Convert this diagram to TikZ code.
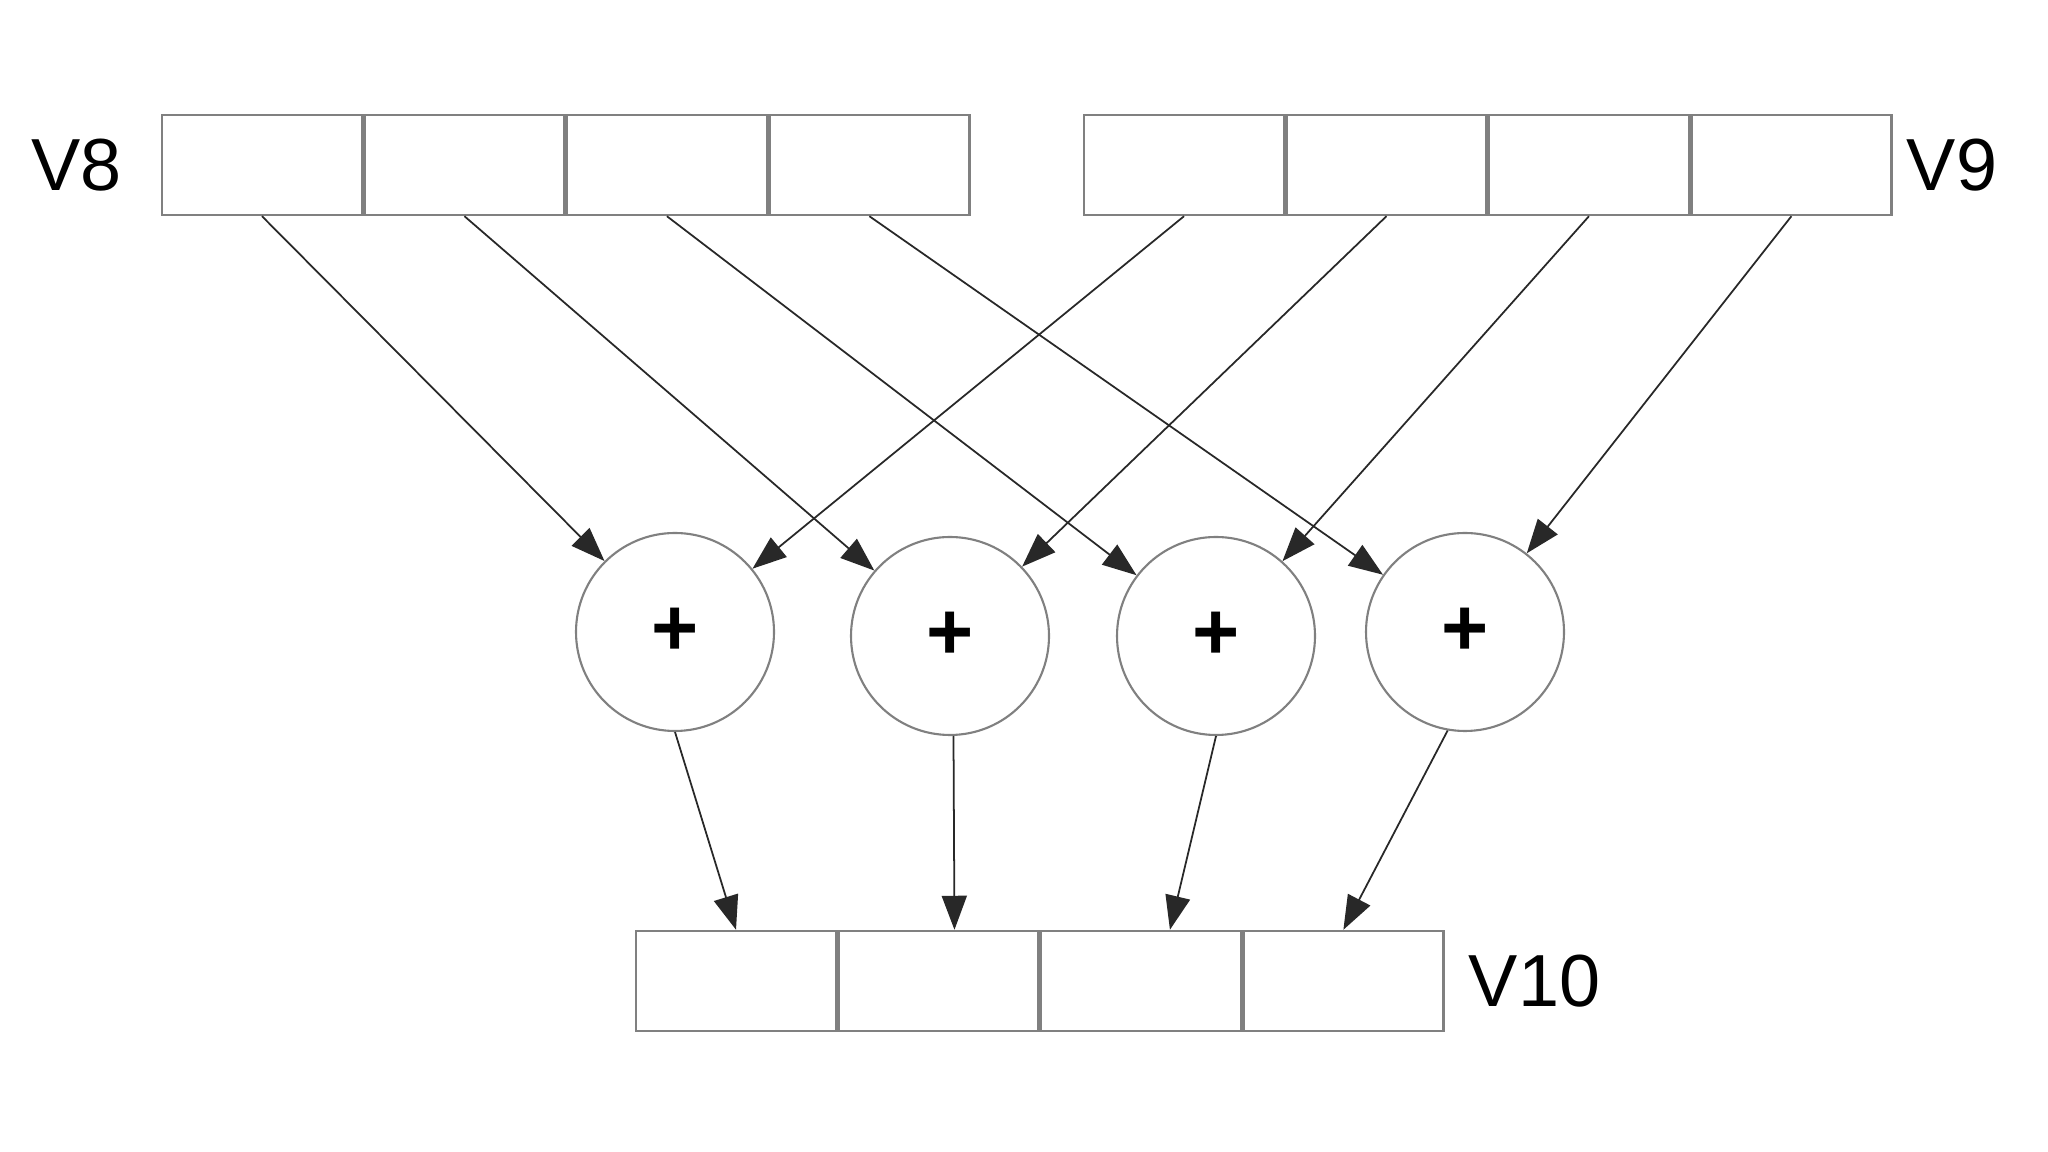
\documentclass[tikz,border=0pt]{standalone}
\usepackage{fontspec}
\setmainfont{Liberation Sans}
\usepackage{tikz}
\usetikzlibrary{arrows.meta,positioning,calc}
\definecolor{vgray}{RGB}{128,128,128}
\definecolor{vink}{RGB}{40,40,40}

\begin{document}
\begin{tikzpicture}[
  x=0.1mm,
  y=-0.1mm,
  node distance=0pt,
  cell/.style={
    draw=vgray,
    line width=0.7pt,
    minimum width=2.0cm,
    minimum height=1.0cm,
    inner sep=0pt
  },
  adder/.style={
    circle,
    draw=vgray,
    line width=0.6pt,
    minimum size=1.98cm,
    inner sep=0pt,
    font=\fontsize{23}{26}\selectfont\bfseries
  },
  vlabel/.style={
    font=\fontsize{21}{24}\selectfont,
    inner sep=1pt
  },
  arr/.style={
    -{Triangle[length=3.4mm,width=2.5mm]},
    vink,
    line width=0.5pt
  }
]
\useasboundingbox[fill=white] (0,0) rectangle (2048,1152);

% source vector V8
\node[cell] (a1) at (262,165) {};
\node[cell, right=of a1] (a2) {};
\node[cell, right=of a2] (a3) {};
\node[cell, right=of a3] (a4) {};
\node[vlabel, left=0.35cm of a1] (v8) {V8};

% source vector V9
\node[cell] (b1) at (1184,165) {};
\node[cell, right=of b1] (b2) {};
\node[cell, right=of b2] (b3) {};
\node[cell, right=of b3] (b4) {};
\node[vlabel, right=0.1cm of b4] (v9) {V9};

% adders
\node[adder] (s1) at (675,632) {+};
\node[adder] (s2) at (950,636) {+};
\node[adder] (s3) at (1216,636) {+};
\node[adder] (s4) at (1465,632) {+};

% result vector V10
\node[cell] (c1) at (736,981) {};
\node[cell, right=of c1] (c2) {};
\node[cell, right=of c2] (c3) {};
\node[cell, right=of c3] (c4) {};
\node[vlabel, right=0.2cm of c4] (v10) {V10};

\draw[arr] (a1.south) -- (s1);
\draw[arr] (a2.south) -- (s2);
\draw[arr] (a3.south) -- (s3);
\draw[arr] (a4.south) -- (s4);

\draw[arr] (b1.south) -- (s1);
\draw[arr] (b2.south) -- (s2);
\draw[arr] (b3.south) -- (s3);
\draw[arr] (b4.south) -- (s4);

\draw[arr] (s1.south) -- (c1.north);
\draw[arr] (s2.272) -- ($(c2.north)+(16,0)$);
\draw[arr] (s3.south) -- ($(c3.north)+(29,0)$);
\draw[arr] (s4.260) -- (c4.north);

\end{tikzpicture}
\end{document}
